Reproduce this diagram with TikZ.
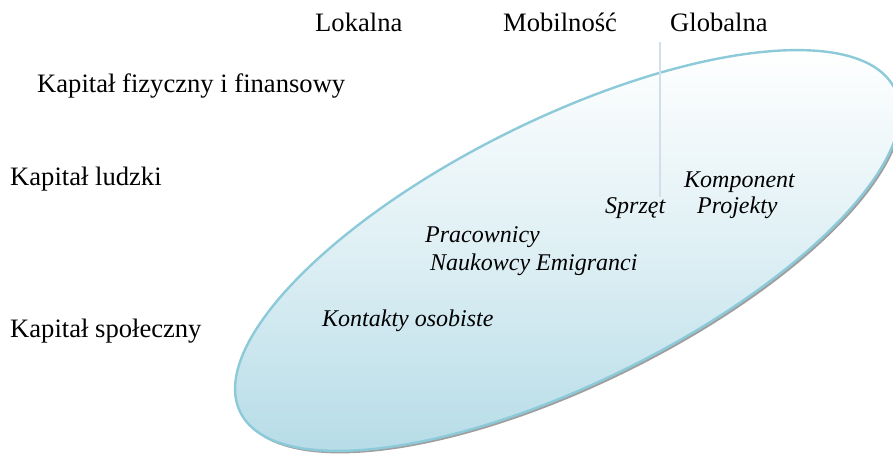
\documentclass[tikz,border=0pt]{standalone}
\usepackage{fontspec}
\setmainfont{Liberation Serif}
\definecolor{rimblue}{HTML}{8DCAD9}
\definecolor{lowblue}{HTML}{B6DCE7}
\definecolor{axisline}{HTML}{D3DEEC}
\begin{document}
\begin{tikzpicture}[x=1pt,y=-1pt,
  lbl/.style={anchor=base west,inner sep=0pt,font=\fontsize{26.6}{30}\selectfont},
  itl/.style={anchor=base west,inner sep=0pt,font=\fontsize{24}{28}\selectfont\itshape},
  ell/.style={rotate around={26.3:(567.5,250.5)}}]
\useasboundingbox (0,0) rectangle (893,454);
\clip (0,0) rectangle (893,454);
% shadow
\begin{scope}[shift={(2,2.5)}]
\fill[gray!75,ell] (567.5,250.5) ellipse [x radius=365, y radius=132];
\end{scope}
% shaded ellipse
\begin{scope}
\clip[ell] (567.5,250.5) ellipse [x radius=365, y radius=132];
\shade[top color=white, bottom color=lowblue, middle color=lowblue!45] (0,48) rectangle (905,454);
\end{scope}
\draw[rimblue,line width=2.4pt,ell] (567.5,250.5) ellipse [x radius=365, y radius=132];
% axis line
\coordinate (t) at (660,42);
\coordinate (b) at (660,197);
\draw[axisline,line width=1.6pt] (t) -- (b);
% labels
\node[lbl] (lok) at (315,32) {Lokalna};
\node[lbl] (mob) at (503,32) {Mobilność};
\node[lbl] (glo) at (670,32) {Globalna};
\node[lbl] (kf) at (37,93) {Kapitał fizyczny i finansowy};
\node[lbl] (kl) at (10,186) {Kapitał ludzki};
\node[lbl] (ks) at (10,337) {Kapitał społeczny};
\node[itl] (kom) at (684,188) {Komponent};
\node[itl] (pro) at (697,214) {Projekty};
\node[itl] (spr) at (605,214) {Sprzęt};
\node[itl] (prac) at (425,243) {Pracownicy};
\node[itl] (nau) at (430,270) {Naukowcy Emigranci};
\node[itl] (kon) at (322,326) {Kontakty osobiste};
\end{tikzpicture}
\end{document}
